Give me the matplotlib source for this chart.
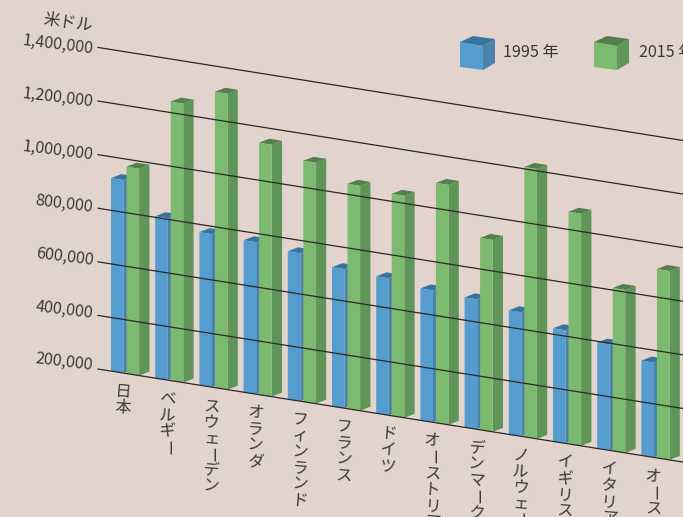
import matplotlib
matplotlib.use('Agg')
import matplotlib.pyplot as plt
from matplotlib.transforms import Affine2D

plt.rcParams['font.family'] = ['Noto Sans CJK JP', 'DejaVu Sans']

countries = ['日本', 'ベルギー', 'スウェーデン', 'オランダ', 'フィンランド', 'フランス', 'ドイツ',
             'オーストリア', 'デンマーク', 'ノルウェー', 'イギリス', 'イタリア', 'オーストラリア']
values_1995 = [920000, 804000, 771000, 767000, 752000, 719000, 711000,
               692000, 685000, 663000, 622000, 595000, 554000]
values_2015 = [972000, 1241000, 1304000, 1140000, 1099000, 1039000, 1028000,
               1095000, 916000, 1207000, 1066000, 808000, 905000]
ticks = [200000, 400000, 600000, 800000, 1000000, 1200000, 1400000]

BG = '#e2d4cd'
TEXT = '#3b3735'
BLUE = ('#559ccf', '#4a82ab', '#38749c')
GREEN = ('#7cba70', '#5f9558', '#527f4d')

fig = plt.figure(figsize=(6.83, 5.17), dpi=100, facecolor=BG)
ax = fig.add_axes([0, 0, 1, 1])
ax.set_xlim(0, 683)
ax.set_ylim(517, 0)
ax.axis('off')

# category/value -> picture pixels, with the shear of the fake 3d floor
skew = Affine2D.from_values(44.2, 7.03, 0, -0.000268, 111, 424.7) + ax.transData

base = ticks[0]
bar_w = 0.285
depth_x = 0.233
depth_v = 21000


def draw_bar(x, v, colors):
    front, side, top = colors
    ax.fill([x + bar_w, x + bar_w + depth_x, x + bar_w + depth_x, x + bar_w],
            [base, base + depth_v, v + depth_v, v], color=side, lw=0, transform=skew)
    ax.fill([x, x + bar_w, x + bar_w + depth_x, x + depth_x],
            [v, v, v + depth_v, v + depth_v], color=top, lw=0, transform=skew)
    ax.fill([x, x + bar_w, x + bar_w, x], [base, base, v, v], color=front, lw=0, transform=skew)


for i in range(len(countries)):
    draw_bar(i, values_1995[i], BLUE)
    draw_bar(i + 0.351, values_2015[i], GREEN)

# gridlines sit over the bars
for t in ticks:
    ax.plot([-0.294, 14], [t, t], color='#2b2826', lw=0.9, transform=skew, zorder=5)
    # labels are spaced a little tighter than the lines
    nudge = 3 - 5 * (t - base) / 1200000
    ax.annotate(f'{t:,}', xy=(-0.294, t), xycoords=skew, xytext=(-5, nudge), textcoords='offset pixels',
                ha='right', va='center', rotation=-7, rotation_mode='anchor',
                fontsize=11.6, color=TEXT)

ax.text(93, 26, '米ドル', ha='right', va='center', rotation=-8, rotation_mode='anchor',
        fontsize=12, color=TEXT)

# stacked vertical labels, one glyph per step
for i, name in enumerate(countries):
    for j, ch in enumerate(name):
        ax.annotate(ch, xy=(i, base), xycoords=skew, xytext=(12, -21 - 16.2 * j),
                    textcoords='offset pixels', ha='center', va='center',
                    rotation=-90 if ch == 'ー' else -4, fontsize=11.6, color=TEXT,
                    annotation_clip=False)


def legend_cube(x, y, colors):
    front, side, top = colors
    ax.fill([x, x + 23, x + 23, x], [y, y + 4, y + 28, y + 25], color=front, lw=0)
    ax.fill([x + 23, x + 35, x + 35, x + 23], [y + 4, y - 3, y + 21, y + 28], color=side, lw=0)
    ax.fill([x, x + 13, x + 35, x + 23], [y, y - 6, y - 3, y + 4], color=top, lw=0)


legend_cube(460, 42, BLUE)
legend_cube(594, 42, GREEN)
ax.text(503, 52, '1995 年', ha='left', va='center', fontsize=11.6, color=TEXT)
ax.text(639, 52, '2015 年', ha='left', va='center', fontsize=11.6, color=TEXT)

fig.savefig('out.png', dpi=100, facecolor=BG)
